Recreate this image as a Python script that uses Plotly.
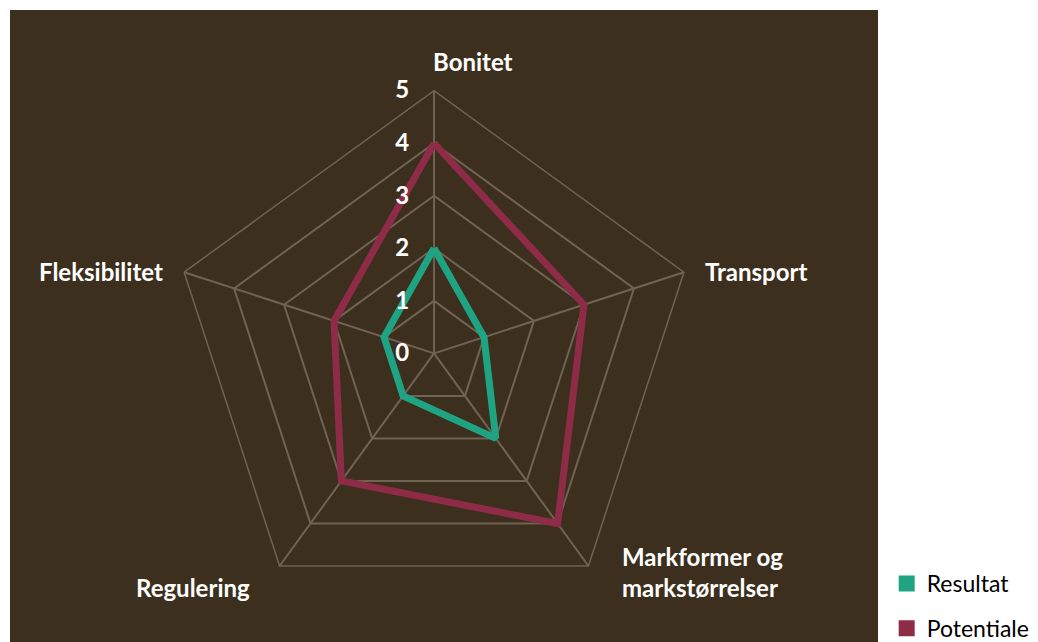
import plotly.graph_objects as go

categories = ["Bonitet", "Transport", "Markformer og<br>markstørrelser", "Regulering", "Fleksibilitet"]
resultat = [2, 1, 2, 1, 1]
potentiale = [4, 3, 4, 3, 2]
radial_ticks = [0, 1, 2, 3, 4, 5]

GREEN = "#1fa483"
RED = "#8e2b47"
BG = "#3d2f1e"
GRID = "#6f6354"

def closed(v):
    return list(v) + [v[0]]

fig = go.Figure()
fig.add_trace(go.Scatterpolar(r=closed(resultat), theta=closed(categories), mode="lines",
                              line=dict(color=GREEN, width=7), name="Resultat", showlegend=False))
fig.add_trace(go.Scatterpolar(r=closed(potentiale), theta=closed(categories), mode="lines",
                              line=dict(color=RED, width=7), name="Potentiale", showlegend=False))
# legend entries as squares
fig.add_trace(go.Scatterpolar(r=[None], theta=[categories[0]], mode="markers", name="Resultat",
                              marker=dict(symbol="square", size=18, color=GREEN), legendgroup="a"))
fig.add_trace(go.Scatterpolar(r=[None], theta=[categories[0]], mode="markers", name="Potentiale",
                              marker=dict(symbol="square", size=18, color=RED), legendgroup="b"))

# category labels placed beside the pentagon vertices (paper coordinates)
label_pos = [
    (0.485, 0.919, "left", "middle", "left"),
    (0.798, 0.589, "left", "middle", "left"),
    (0.703, 0.117, "left", "middle", "left"),
    (0.279, 0.094, "right", "middle", "right"),
    (0.1786, 0.589, "right", "middle", "right"),
]
annotations = [
    dict(text=cat, x=x, y=y, xref="paper", yref="paper", xanchor=xa, yanchor=ya, align=al,
         showarrow=False, font=dict(family="Lato", size=24, color="white", weight="bold"))
    for cat, (x, y, xa, ya, al) in zip(categories, label_pos)
]

# figure is drawn with an 8px page offset; dark panel at screen x 10..878, y 10..bottom
fig.update_layout(
    width=1038, height=642,
    margin=dict(l=2, r=168, t=2, b=0),
    paper_bgcolor="white",
    font=dict(family="Lato", color="black", size=23),
    shapes=[dict(type="rect", xref="paper", yref="paper", x0=0, x1=1, y0=0, y1=1,
                 fillcolor=BG, line=dict(width=0), layer="below")],
    annotations=annotations,
    polar=dict(
        bgcolor="rgba(0,0,0,0)",
        gridshape="linear",
        domain=dict(x=[0.1845, 0.7925], y=[0.0484, 0.8734]),
        radialaxis=dict(range=[0, 5], tickvals=radial_ticks, angle=90, side="counterclockwise",
                        tickangle=90, showline=False, gridcolor=GRID, gridwidth=1.5,
                        ticks="outside", ticklen=16, tickcolor="rgba(0,0,0,0)",
                        tickfont=dict(family="Lato", size=24, color="white", weight="bold")),
        angularaxis=dict(rotation=90, direction="clockwise", gridcolor=GRID, gridwidth=1.5,
                         linecolor=GRID, linewidth=1.5, showline=True,
                         showticklabels=False, ticks=""),
    ),
    legend=dict(x=1.01, xanchor="left", y=-0.005, yanchor="bottom", traceorder="grouped",
                tracegroupgap=12, font=dict(family="Lato", size=23, color="black"),
                bgcolor="rgba(0,0,0,0)"),
)

fig.write_html("out.html")
